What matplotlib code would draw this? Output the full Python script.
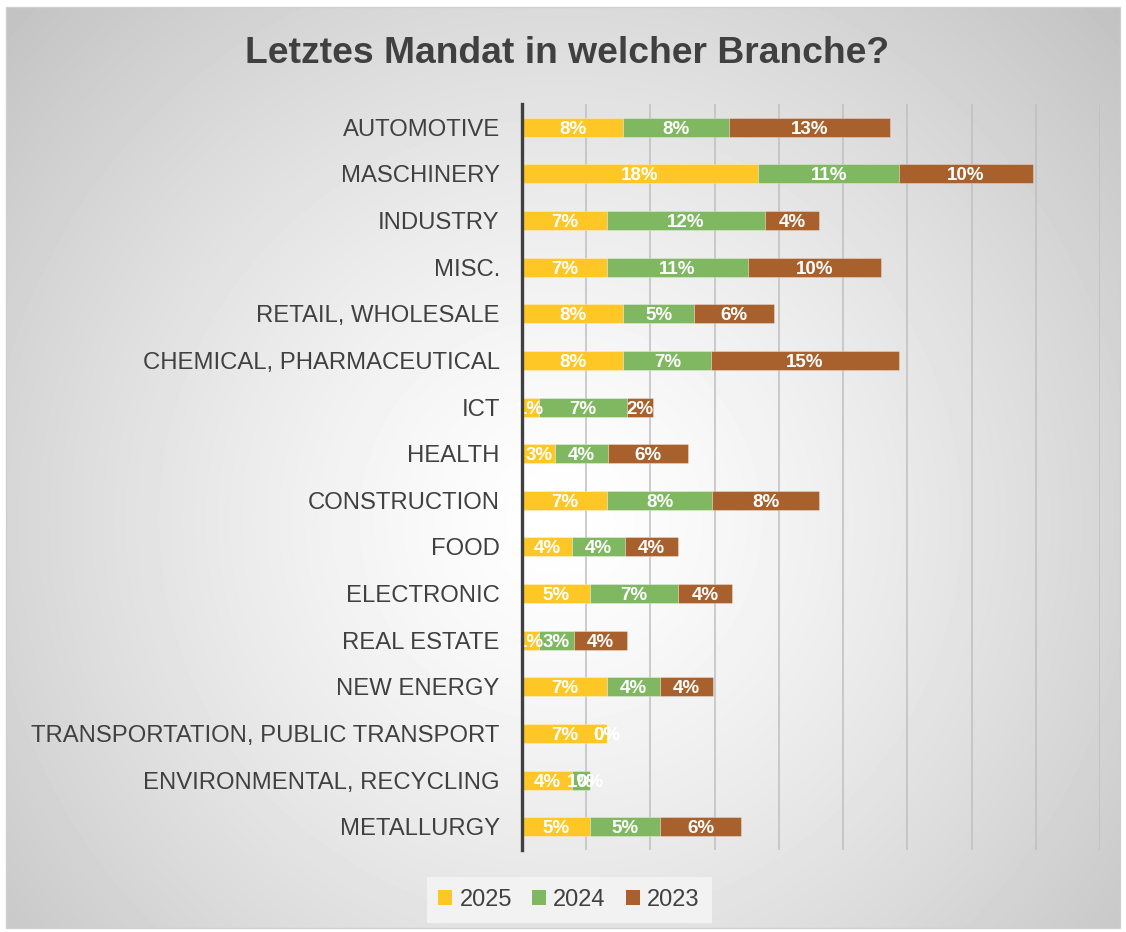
import numpy as np
import matplotlib
matplotlib.use("Agg")
import matplotlib.pyplot as plt
from matplotlib.patches import Patch, Rectangle

categories = ["AUTOMOTIVE", "MASCHINERY", "INDUSTRY", "MISC.", "RETAIL, WHOLESALE",
              "CHEMICAL, PHARMACEUTICAL", "ICT", "HEALTH", "CONSTRUCTION", "FOOD",
              "ELECTRONIC", "REAL ESTATE", "NEW ENERGY",
              "TRANSPORTATION, PUBLIC TRANSPORT", "ENVIRONMENTAL, RECYCLING", "METALLURGY"]
v2025 = [7.9, 18.4, 6.6, 6.6, 7.9, 7.9, 1.3, 2.6, 6.6, 3.9, 5.3, 1.3, 6.6, 6.6, 3.9, 5.3]
v2024 = [8.22, 10.96, 12.33, 10.96, 5.48, 6.85, 6.85, 4.11, 8.22, 4.11, 6.85, 2.74, 4.11, 0.0, 1.37, 5.48]
v2023 = [12.5, 10.42, 4.17, 10.42, 6.25, 14.58, 2.08, 6.25, 8.33, 4.17, 4.17, 4.17, 4.17, 0.0, 0.0, 6.25]
series_names = ["2025", "2024", "2023"]
colors = ["#FFC726", "#80B862", "#A8602D"]

plt.rcParams['font.family'] = ['Liberation Sans', 'DejaVu Sans']

W, H = 1126, 932
fig = plt.figure(figsize=(W / 100, H / 100), dpi=100)
fig.patch.set_facecolor("white")

# background gradient
x0, y0, x1, y1 = 6, 7, 1120, 928
bg = fig.add_axes([x0 / W, 1 - y1 / H, (x1 - x0) / W, (y1 - y0) / H], zorder=0)
yy, xx = np.mgrid[y0:y1, x0:x1]
r = np.sqrt((xx - 560) ** 2 + (yy - 520) ** 2) / 755.0
g = 1 - 0.24 * np.clip(r, 0, 1.2) ** 1.3
bg.imshow(g, cmap="gray", vmin=0, vmax=1, aspect="auto", extent=[0, 1, 0, 1], interpolation="bilinear")
bg.set_axis_off()
fig.add_artist(Rectangle((x0 / W, 1 - y1 / H), (x1 - x0) / W, (y1 - y0) / H,
                         transform=fig.transFigure, fill=False, edgecolor="#d0d0d0", lw=1, zorder=1))

ax = fig.add_axes([522 / W, 1 - 850 / H, (1100 - 522) / W, (850 - 104) / H], zorder=2)
ax.patch.set_alpha(0)

y = np.arange(len(categories))
left = np.zeros(len(categories))
for name, vals, c in zip(series_names, [v2025, v2024, v2023], colors):
    vals = np.array(vals)
    ax.barh(y, vals, left=left, height=0.41, color=c, edgecolor=(1, 1, 1, 0.35), linewidth=0.6,
            label=name, zorder=3)
    for yi, l, v in zip(y, left, vals):
        ax.text(l + v / 2, yi, f"{int(v + 0.5)}%", ha="center", va="center_baseline", color="white",
                fontsize=13.5, fontweight="bold", zorder=4)
    left = left + vals

ax.set_xlim(0, 45)
ax.set_ylim(len(categories) - 0.5, -0.5)
ax.set_xticks(np.arange(0, 46, 5))
ax.set_xticklabels([])
ax.tick_params(axis="x", length=0)
ax.grid(axis="x", color="#bfbfbf", linewidth=1.1, zorder=1)
ax.set_axisbelow(True)
ax.set_yticks(y)
ax.set_yticklabels(categories, fontsize=17.2, color="#404040")
ax.tick_params(axis="y", length=0, pad=16)
for s in ["top", "right", "bottom"]:
    ax.spines[s].set_visible(False)
ax.spines["left"].set_color("#404040")
ax.spines["left"].set_linewidth(2.4)
ax.spines["left"].set_zorder(5)

fig.text(0.504, 1 - 63 / H, "Letztes Mandat in welcher Branche?", ha="center", va="baseline",
         fontsize=26.8, fontweight="bold", color="#404040")

handles = [Patch(facecolor=c, edgecolor="none", label=n) for n, c in zip(series_names, colors)]
leg = fig.legend(handles=handles, loc="center", bbox_to_anchor=(569 / W, 1 - 900 / H), ncol=3,
                 fontsize=17, frameon=True, handlelength=0.6, handleheight=0.6, handletextpad=0.3,
                 columnspacing=0.85, borderpad=0.5, borderaxespad=0, fancybox=False)
leg.get_frame().set_facecolor("#f2f2f2")
leg.get_frame().set_edgecolor("none")
leg.get_frame().set_alpha(1)
for t in leg.get_texts():
    t.set_color("#404040")

fig.savefig("out.png", dpi=100)
